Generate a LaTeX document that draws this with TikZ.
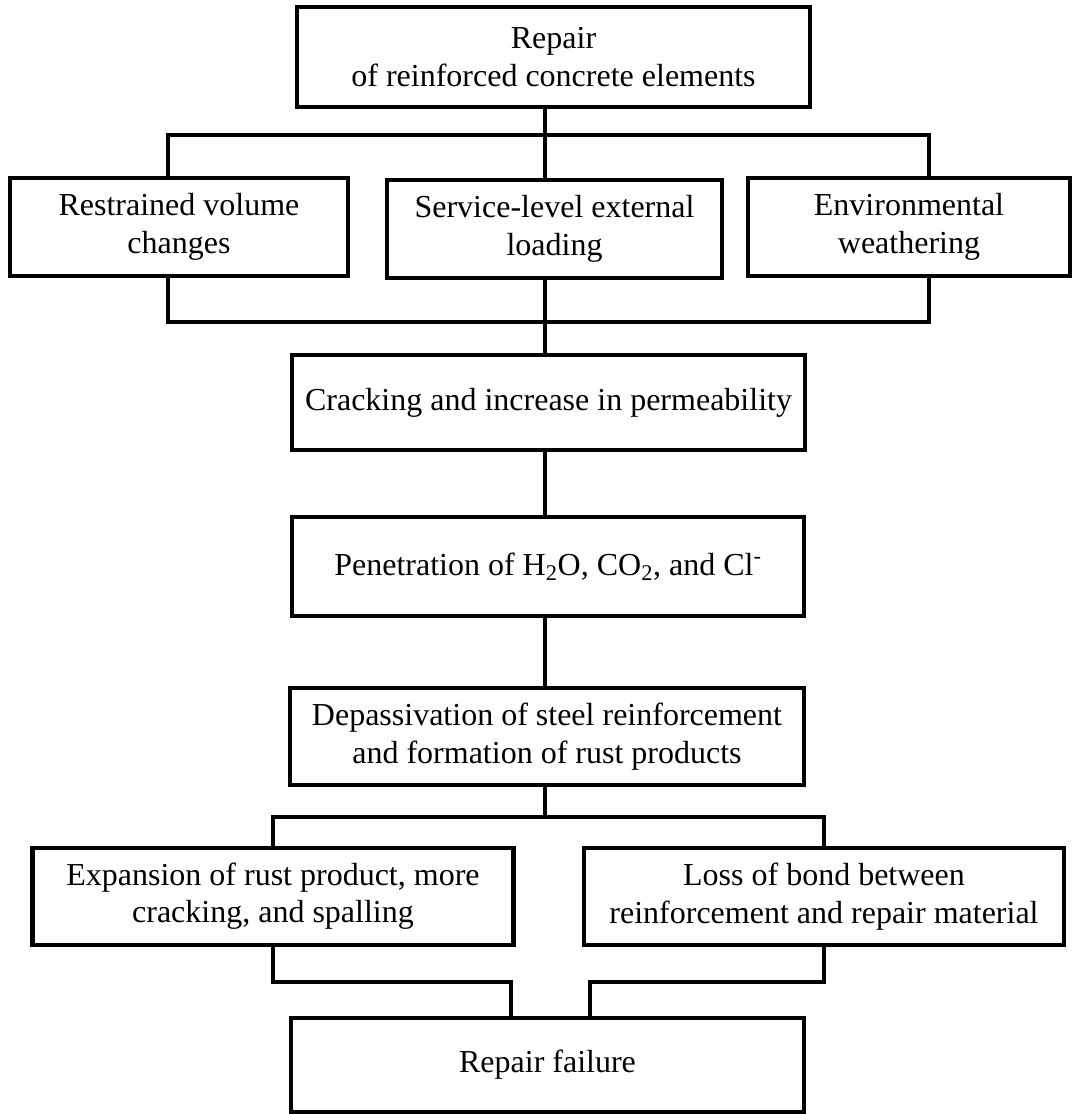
\documentclass[tikz,border=0pt]{standalone}
\usepackage{fontspec}
\setmainfont{Liberation Serif}

\begin{document}
\begin{tikzpicture}[
    x=0.75pt, y=-0.75pt,
    flowBox/.style={rectangle, draw=black, line width=3.6pt, fill=white, inner sep=0pt,
        align=center, font=\fontsize{24}{28}\selectfont},
    boxSize/.style 2 args={minimum width=#1*0.75pt, minimum height=#2*0.75pt},
    link/.style={draw=black, line width=3pt}
]
    \useasboundingbox (0,0) rectangle (1074,1114);

    % --- BOXES ---
    \node[flowBox, boxSize={513}{100}] (repair) at (553.5, 57) {Repair\\of reinforced concrete elements};

    \node[flowBox, boxSize={338}{98}] (restrained) at (179, 227) {Restrained volume\\changes};
    \node[flowBox, boxSize={335}{98}] (loading) at (554.5, 229) {Service-level external\\loading};
    \node[flowBox, boxSize={322}{98}] (weathering) at (909, 227) {Environmental\\weathering};

    \node[flowBox, boxSize={513}{95}] (cracking) at (548.5, 402.5) {Cracking and increase in permeability};
    \node[flowBox, boxSize={512}{99}] (penetration) at (548, 566.5) {Penetration of H\textsubscript{2}O, CO\textsubscript{2}, and Cl\textsuperscript{-}};
    \node[flowBox, boxSize={514}{97}] (depassivation) at (547, 736.5) {Depassivation of steel reinforcement\\and formation of rust products};

    \node[flowBox, boxSize={481}{97}] (expansion) at (273, 896.5) {Expansion of rust product, more\\cracking, and spalling};
    \node[flowBox, boxSize={480}{97}] (bondLoss) at (824, 896.5) {Loss of bond between\\reinforcement and repair material};

    \node[flowBox, boxSize={513}{94}] (failure) at (547.5, 1065) {Repair failure};

    % --- JUNCTION POINTS ---
    \coordinate (spine) at (545, 0);
    \coordinate (splitL) at (168, 135);
    \coordinate (splitR) at (929, 135);
    \coordinate (mergeL) at (168, 322);
    \coordinate (mergeR) at (929, 322);
    \coordinate (forkL) at (273, 817);
    \coordinate (forkR) at (824, 817);
    \coordinate (joinL) at (273, 982);
    \coordinate (joinR) at (824, 982);
    \coordinate (dropL) at (511, 982);
    \coordinate (dropR) at (590, 982);

    % --- CONNECTORS ---
    \draw[link] (repair.south -| spine) -- (spine |- splitL);
    \draw[link] (restrained.north -| splitL) -- (splitL) -- (splitR) -- (weathering.north -| splitR);
    \draw[link] (spine |- splitL) -- (loading.north -| spine);

    \draw[link] (restrained.south -| mergeL) -- (mergeL) -- (mergeR) -- (weathering.south -| mergeR);
    \draw[link] (loading.south -| spine) -- (cracking.north -| spine);
    \draw[link] (cracking.south -| spine) -- (penetration.north -| spine);
    \draw[link] (penetration.south -| spine) -- (depassivation.north -| spine);

    \draw[link] (depassivation.south -| spine) -- (spine |- forkL);
    \draw[link] (expansion.north -| forkL) -- (forkL) -- (forkR) -- (bondLoss.north -| forkR);

    \draw[link] (expansion.south -| joinL) -- (joinL) -- (dropL) -- (failure.north -| dropL);
    \draw[link] (bondLoss.south -| joinR) -- (joinR) -- (dropR) -- (failure.north -| dropR);

\end{tikzpicture}
\end{document}
